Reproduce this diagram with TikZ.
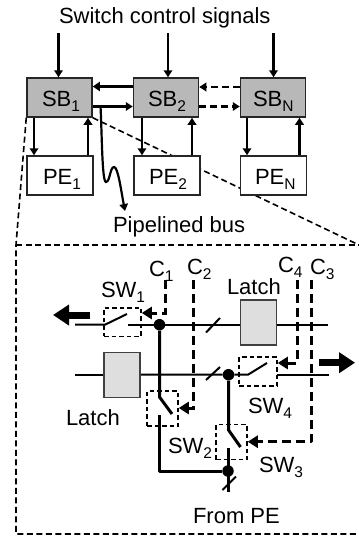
\documentclass[tikz,border=0pt]{standalone}
\usepackage{fontspec}
\setmainfont{Liberation Sans}
\usetikzlibrary{arrows.meta}
\newcommand{\lbl}[2]{#1\raisebox{-5pt}{\fontsize{15.5}{15.5}\selectfont #2}}
\tikzset{
  x=1pt,y=-1pt,
  every node/.style={font=\fontsize{22}{24}\selectfont,text=black},
  lab/.style={anchor=base west,inner sep=0pt,outer sep=0pt},
  sbbox/.style={draw=black!85,line width=1.5pt,fill=black!28,minimum width=65pt,minimum height=39pt,inner sep=0pt},
  pebox/.style={draw=black!85,line width=1.5pt,fill=white,minimum width=66pt,minimum height=39pt,inner sep=0pt},
  latchbox/.style={draw=black!75,line width=1.5pt,fill=black!13,minimum width=36pt,minimum height=45pt,inner sep=0pt},
  swbox/.style={draw=black,line width=1.5pt,dash pattern=on 4.5pt off 3pt,minimum width=#1,inner sep=0pt},
  arr/.style={line width=2.2pt,-{Triangle[length=7pt,width=8.5pt]}},
  thickarr/.style={line width=3pt,-{Triangle[length=7pt,width=9pt]}},
  dasharr/.style={line width=2.2pt,dash pattern=on 7pt off 4pt,-{Triangle[length=7pt,width=8.5pt]}},
  ctrl/.style={line width=3pt,dash pattern=on 9pt off 5pt,-{Triangle[length=10pt,width=12pt]}},
  wire/.style={line width=2pt},
  bus/.style={line width=3pt},
  zoomline/.style={line width=1.6pt,dash pattern=on 6pt off 3.5pt},
  dotnode/.style={circle,fill=black,minimum size=11.5pt,inner sep=0pt},
  bigarr/.style={line width=7pt,-{Triangle[length=16pt,width=20pt]}},
}
\begin{document}
\begin{tikzpicture}
\useasboundingbox (0,0) rectangle (359,536);
% zoom outline
\node[sbbox] (SB1) at (59.5,97.5) {};
\coordinate (zl) at (16,245);
\coordinate (zr) at (359,245);
\coordinate (zb) at (16,534);
\coordinate (zs) at (359,534);
\draw[zoomline] (SB1.south west) -- (zl) -- (zb) -- (zs);
\draw[zoomline] (zl) -- (zr);
\draw[zoomline] (SB1.south east) -- (zr);
% blocks
\node[sbbox] (SB1) at (59.5,97.5) {};
\node[sbbox] (SB2) at (166,97.5) {};
\node[sbbox] (SBN) at (273,97.5) {};
\node[pebox] (PE1) at (60,175.5) {};
\node[pebox] (PE2) at (167,175.5) {};
\node[pebox] (PEN) at (273.5,175.5) {};
\node[lab] (tSw) at (59,23) {Switch control signals};
\node[lab] (tS1) at (42,106) {\lbl{SB}{1}};
\node[lab] (tS2) at (148,106) {\lbl{SB}{2}};
\node[lab] (tSN) at (253,106) {\lbl{SB}{N}};
\node[lab] (tP1) at (43,184) {\lbl{PE}{1}};
\node[lab] (tP2) at (149,184) {\lbl{PE}{2}};
\node[lab] (tPN) at (255,184) {\lbl{PE}{N}};
\node[lab] (tBus) at (113,232) {Pipelined bus};
% control inputs
\coordinate (c1) at (58.5,33);
\coordinate (c2) at (168,33);
\coordinate (c3) at (273.5,33);
\draw[arr] (c1) -- (c1 |- SB1.north);
\draw[arr] (c2) -- (c2 |- SB2.north);
\draw[arr] (c3) -- (c3 |- SBN.north);
% between blocks
\draw[thickarr] ([yshift=11pt]SB2.west) -- ([yshift=11pt]SB1.east);
\draw[arr] ([yshift=-9pt]SB1.east) -- ([yshift=-9pt]SB2.west);
\draw[dasharr] ([yshift=10.5pt]SBN.west) -- ([yshift=10.5pt]SB2.east);
\draw[dasharr] ([yshift=-9pt]SB2.east) -- ([yshift=-9pt]SBN.west);
% SB-PE
\draw[arr] ([xshift=-25.5pt]SB1.south) -- ([xshift=-26pt]PE1.north);
\draw[arr] ([xshift=28pt]PE1.north) -- ([xshift=28.5pt]SB1.south);
\draw[arr] ([xshift=-24pt]SB2.south) -- ([xshift=-25pt]PE2.north);
\draw[arr] ([xshift=25pt]PE2.north) -- ([xshift=26pt]SB2.south);
\draw[arr] ([xshift=-26pt]SBN.south) -- ([xshift=-26.5pt]PEN.north);
\draw[arr] ([xshift=26pt]PEN.north) -- ([xshift=26.5pt]SBN.south);
% pipelined bus
\coordinate (busS) at (100.5,106);
\coordinate (busE) at (125,211);
\draw[arr] (busS) .. controls (102,135) and (102,182) .. (106,182) .. controls (110,182) and (110,167) .. (114,167) .. controls (118,167) and (121,190) .. (busE);
% latches
\node[latchbox] (L1) at (258.5,322.5) {};
\node[latchbox] (L2) at (122,375) {};
% switch boxes
\node[swbox=37pt,minimum height=28.5pt] (SW1) at (122.5,322) {};
\node[swbox=31pt,minimum height=35pt] (SW2) at (162.5,408.5) {};
\node[swbox=31pt,minimum height=35pt] (SW3) at (231.5,442) {};
\node[swbox=38pt,minimum height=29pt] (SW4) at (258,371.5) {};
% junctions
\node[dotnode] (J1) at (159.5,324.7) {};
\node[dotnode] (J2) at (228.5,374.7) {};
\node[dotnode] (J3) at (228,471) {};
% wires
\coordinate (w1l) at (75,324.7);
\coordinate (w1a) at (105,324.7);
\coordinate (w1b) at (127,314);
\coordinate (w1c) at (128,324.7);
\coordinate (w1r) at (328,324.7);
\draw[wire] (w1l) -- (w1a) -- (w1b);
\draw[wire] (w1c) -- (J1) -- (L1.west |- J1);
\draw[wire] (L1.east |- J1) -- (w1r);
\coordinate (w2l) at (75,374.7);
\coordinate (w2b) at (248,374.7);
\coordinate (w2t) at (267,363);
\coordinate (w2c) at (277,374.7);
\coordinate (w2r) at (329,374.7);
\draw[wire] (w2l) -- (L2.west |- w2l);
\draw[wire] (L2.east |- w2l) -- (J2) -- (w2b) -- (w2t);
\draw[wire] (w2c) -- (w2r);
% thick branches
\coordinate (s2a) at (159.5,397);
\coordinate (s2b) at (172,414);
\coordinate (s2c) at (159.5,415);
\coordinate (s2d) at (159.5,471);
\draw[bus,line join=round] (J1) -- (s2a) -- (s2b);
\draw[bus,line join=round] (s2c) -- (s2d) -- (J3);
\coordinate (s3a) at (228.5,430);
\coordinate (s3b) at (240.5,447);
\coordinate (s3c) at (228,448);
\coordinate (s3d) at (228,492);
\draw[bus,line join=round] (J2) -- (s3a) -- (s3b);
\draw[bus] (s3c) -- (s3d);
% slashes
\draw[wire] (206,332.5) -- (220,318);
\draw[wire] (206,380) -- (220,367);
\draw[wire] (222.5,490) -- (236,476.5);
% control lines
\coordinate (C1t) at (165.7,280);
\coordinate (C2t) at (193.3,280);
\coordinate (C4t) at (297.3,280);
\coordinate (C3t) at (311.7,280);
\draw[ctrl] (C1t) |- (SW1.east |- 0,313);
\draw[ctrl] (C2t) |- (SW2.east |- 0,408);
\draw[ctrl] (C4t) |- (SW4.east |- 0,363);
\draw[ctrl,line join=round] (C3t) |- (SW3.east |- 0,441.7);
% big arrows
\coordinate (ba1) at (90,315);
\coordinate (ba2) at (53,315);
\coordinate (ba3) at (319,362.7);
\coordinate (ba4) at (355,362.7);
\draw[bigarr] (ba1) -- (ba2);
\draw[bigarr] (ba3) -- (ba4);
% labels
\node[lab] (tC1) at (149,276) {\lbl{C}{1}};
\node[lab] (tSW1) at (101,297) {\lbl{SW}{1}};
\node[lab] (tC2) at (187,274) {\lbl{C}{2}};
\node[lab] (tC4) at (278,272) {\lbl{C}{4}};
\node[lab] (tC3) at (310,274) {\lbl{C}{3}};
\node[lab] (tL1) at (227,294) {Latch};
\node[lab] (tL2) at (66,425) {Latch};
\node[lab] (tSW2) at (168,453) {\lbl{SW}{2}};
\node[lab] (tSW3) at (259,472) {\lbl{SW}{3}};
\node[lab] (tSW4) at (248,413) {\lbl{SW}{4}};
\node[lab] (tFrom) at (193,523) {From PE};
\end{tikzpicture}
\end{document}
